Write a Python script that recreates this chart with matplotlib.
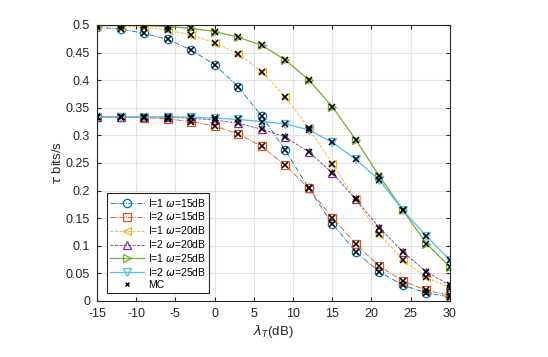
import numpy as np
import matplotlib.pyplot as plt

plt.rcParams['font.family'] = ['Liberation Sans', 'DejaVu Sans']
plt.rcParams['axes.unicode_minus'] = False

# lambda_T (dB)
snr_db = [-15, -12, -9, -6, -3, 0, 3, 6, 9, 12, 15, 18, 21, 24, 27, 30]

# tau values
i1_w15 = [0.496, 0.4925, 0.485, 0.474, 0.455, 0.428, 0.388, 0.335, 0.2735, 0.204,
          0.140, 0.089, 0.0527, 0.0285, 0.0145, 0.0073]
i2_w15 = [0.3333, 0.3332, 0.332, 0.330, 0.325, 0.317, 0.3025, 0.280, 0.246, 0.204,
          0.151, 0.103, 0.063, 0.036, 0.0194, 0.0103]
i1_w20 = [0.4985, 0.4978, 0.496, 0.491, 0.482, 0.468, 0.448, 0.4157, 0.370, 0.313,
          0.249, 0.184, 0.122, 0.074, 0.0425, 0.0243]
i2_w20 = [0.3333, 0.3333, 0.3332, 0.333, 0.331, 0.328, 0.322, 0.311, 0.297, 0.270,
          0.232, 0.184, 0.133, 0.089, 0.0527, 0.0285]
i1_w25 = [0.4998, 0.4996, 0.4993, 0.497, 0.494, 0.488, 0.478, 0.463, 0.437, 0.4005,
          0.352, 0.292, 0.2263, 0.1646, 0.104, 0.0617]
i2_w25 = [0.3333, 0.3333, 0.3333, 0.3333, 0.3332, 0.331, 0.329, 0.325, 0.3207, 0.310,
          0.2875, 0.2566, 0.219, 0.1646, 0.1174, 0.074]

series = [i1_w15, i2_w15, i1_w20, i2_w20, i1_w25, i2_w25]
labels = [r'I=1 $\omega$=15dB', r'I=2 $\omega$=15dB', r'I=1 $\omega$=20dB',
          r'I=2 $\omega$=20dB', r'I=1 $\omega$=25dB', r'I=2 $\omega$=25dB']
colors = ['#0072BD', '#D95319', '#EDB120', '#7E2F8E', '#77AC30', '#4DBEEE']
markers = ['o', 's', '<', '^', '>', 'v']
styles = ['-.', '-.', '--', '--', '-', '-']

fig = plt.figure(figsize=(5.48, 3.57), dpi=100)
ax = fig.add_axes([0.177, 0.157, 0.644, 0.773])

for y, lab, c, m, ls in zip(series, labels, colors, markers, styles):
    ax.plot(snr_db, y, linestyle=ls, color=c, marker=m, markersize=6,
            markerfacecolor='none', markeredgecolor=c, markeredgewidth=0.9,
            linewidth=0.9 if ls == '-' else 0.6, label=lab)

# Monte Carlo points
for y in series:
    ax.plot(snr_db, y, linestyle='none', marker='x', color='k', markersize=4,
            markeredgewidth=1.1)
ax.plot([], [], linestyle='none', marker='x', color='k', markersize=3.5,
        markeredgewidth=1.0, label='MC')

ax.set_xlim(-15, 30)
ax.set_ylim(0, 0.5)
ax.set_xticks(np.arange(-15, 31, 5))
yt = np.round(np.arange(0, 0.501, 0.05), 2)
ax.set_yticks(yt)
ax.set_yticklabels(['0' if v == 0 else ('%g' % v) for v in yt])
ax.grid(True, color='#e3e3e3', linewidth=0.8)
ax.set_axisbelow(True)
ax.tick_params(direction='in', top=True, right=True, labelsize=9, length=3,
               pad=5, color='#262626', labelcolor='#262626')
for s in ax.spines.values():
    s.set_color('#262626')
    s.set_linewidth(0.8)

ax.set_xlabel(r'$\lambda_T$(dB)', fontsize=9.5, color='#262626', labelpad=2)
ax.set_ylabel(r'$\tau$ bits/s', fontsize=9.5, color='#262626', labelpad=1)

leg = ax.legend(loc='lower left', bbox_to_anchor=(0.027, 0.029), borderaxespad=0,
                fontsize=7.5, handlelength=3.3, labelspacing=0.18, handletextpad=0.4,
                borderpad=0.3, fancybox=False, framealpha=1, edgecolor='#262626')
leg.get_frame().set_linewidth(0.8)

fig.savefig('out.png', dpi=100)
